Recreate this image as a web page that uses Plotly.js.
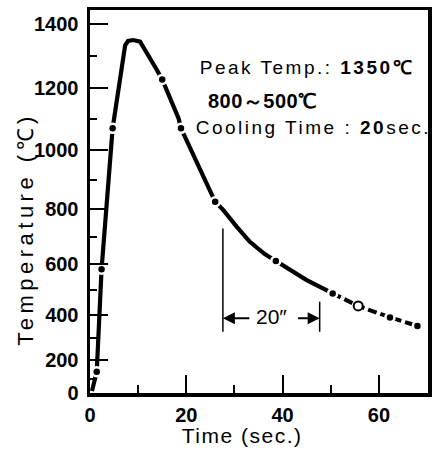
<!DOCTYPE html>
<html>
<head>
<meta charset="utf-8">
<script src="https://cdn.plot.ly/plotly-3.0.1.min.js"></script>
<style>
  html, body { margin: 0; padding: 0; background: #fff; }
  #chart { width: 433px; height: 457px; }
</style>
</head>
<body>
<div id="chart"></div>
<script>
// ---- data (time in s, temperature in °C) ----
const curveTime = [0.4, 1.4, 2.4, 4.7, 7.3, 7.9, 9.0, 10.4, 13.5, 15.0, 18.4, 18.9, 26.0, 27.7, 30.5, 33.2, 36.3, 38.6, 41.5, 45.0, 49.1, 50.4];
const curveTemp = [20, 140, 580, 1071, 1335, 1348, 1351, 1346, 1268, 1228, 1103, 1071, 824, 795, 736, 682, 637, 611, 575, 539, 500, 487];
const tailTime = [50.4, 55.7, 62.3, 68.0];
const tailTemp = [487, 437, 390, 354];
const dotTime = [1.4, 2.4, 4.7, 15.0, 18.9, 26.0, 38.6, 50.4, 55.7, 62.3, 68.0];
const dotTemp = [140, 580, 1071, 1228, 1071, 824, 611, 487, 437, 390, 354];
const dotOpen = [false, false, false, false, false, false, false, false, true, false, false];

const yTickValues = [0, 200, 400, 600, 800, 1000, 1200, 1400];
const yTickLabels = ['0', '200', '400', '600', '800', '1000', '1200', '1400'];
const yMinorValues = [100, 300, 500, 700, 900, 1100, 1300];
const xTickValues = [0, 20, 40, 60];
const xTickLabels = ['0', '20', '40', '60'];

const coolStartTime = 27.6;   // 800 °C
const coolEndTime = 47.7;     // 500 °C
const coolingLabel = '20″';

// the original temperature axis is drawn on a power scale
const AXIS_POWER = 1.24;
const yScale = T => Math.pow(T, AXIS_POWER);

const FONT = 'Liberation Sans, Arial, sans-serif';

const traces = [
  {
    x: curveTime, y: curveTemp.map(yScale), mode: 'lines', type: 'scatter',
    line: { color: '#000', width: 4.2, shape: 'linear' }, hoverinfo: 'skip'
  },
  {
    x: tailTime, y: tailTemp.map(yScale), mode: 'lines', type: 'scatter',
    line: { color: '#000', width: 4, dash: '9px,4px' }, hoverinfo: 'skip'
  },
  {
    x: dotTime, y: dotTemp.map(yScale), mode: 'markers', type: 'scatter',
    marker: {
      size: 9,
      color: dotOpen.map(o => o ? '#fff' : '#000'),
      line: { color: dotOpen.map(o => o ? '#000' : '#fff'), width: dotOpen.map(o => o ? 2 : 2.5) }
    },
    hoverinfo: 'skip'
  }
];

const arrowY = yScale(386);
const annotations = [
  { xref: 'paper', yref: 'paper', x: 0.642, y: 0.851, xanchor: 'center', yanchor: 'middle', showarrow: false,
    text: 'Peak Temp.: <b>1350℃</b>', font: { family: FONT, size: 19, color: '#000' } },
  { xref: 'paper', yref: 'paper', x: 0.510, y: 0.762, xanchor: 'center', yanchor: 'middle', showarrow: false,
    text: '<b>800～500℃</b>', font: { family: FONT, size: 20, color: '#000' } },
  { xref: 'paper', yref: 'paper', x: 0.661, y: 0.6945, xanchor: 'center', yanchor: 'middle', showarrow: false,
    text: 'Cooling Time : <b>20</b>sec.', font: { family: FONT, size: 19, color: '#000' } },
  { xref: 'x', yref: 'y', x: (coolStartTime + coolEndTime) / 2, y: yScale(395), xanchor: 'center', yanchor: 'middle', showarrow: false,
    text: coolingLabel, font: { family: FONT, size: 21, color: '#000' } },
  { xref: 'x', yref: 'y', x: coolStartTime, y: arrowY, axref: 'x', ayref: 'y', ax: coolStartTime + 5.8, ay: arrowY,
    text: '', showarrow: true, arrowhead: 2, arrowsize: 1.2, arrowwidth: 2, arrowcolor: '#000', standoff: 0 },
  { xref: 'x', yref: 'y', x: coolEndTime, y: arrowY, axref: 'x', ayref: 'y', ax: coolEndTime - 4.8, ay: arrowY,
    text: '', showarrow: true, arrowhead: 2, arrowsize: 1.2, arrowwidth: 2, arrowcolor: '#000', standoff: 0 },
  { xref: 'paper', yref: 'paper', x: -0.1923, y: 0.428, xanchor: 'center', yanchor: 'middle', showarrow: false, textangle: -90,
    text: 'Temperature (℃)', font: { family: FONT, size: 22, color: '#000' } },
  { xref: 'paper', yref: 'paper', x: 0.449, y: -0.111, xanchor: 'center', yanchor: 'middle', showarrow: false,
    text: 'Time (sec.)', font: { family: FONT, size: 21, color: '#000' } }
];
const letterSpacing = ['2.5px', '0.5px', '2.5px', '0px', '0px', '0px', '4.5px', '1.5px'];

const shapes = [
  { type: 'line', xref: 'x', yref: 'y', x0: coolStartTime, x1: coolStartTime, y0: yScale(730), y1: yScale(329),
    line: { color: '#000', width: 1.5 } },
  { type: 'line', xref: 'x', yref: 'y', x0: coolEndTime, x1: coolEndTime, y0: yScale(454), y1: yScale(329),
    line: { color: '#000', width: 1.5 } }
];

const layout = {
  width: 433, height: 457,
  margin: { l: 90, r: 5, t: 10, b: 64, pad: 0 },
  paper_bgcolor: '#fff', plot_bgcolor: '#fff',
  showlegend: false,
  font: { family: FONT, color: '#000' },
  xaxis: {
    range: [0, 70.2], showgrid: false, zeroline: false,
    showline: true, linecolor: '#000', linewidth: 3.5, mirror: true,
    tickmode: 'array', tickvals: xTickValues, ticktext: xTickLabels,
    ticks: 'inside', ticklen: 18, tickwidth: 2, tickcolor: '#000',
    minor: { tickmode: 'linear', tick0: 0, dtick: 10, ticks: 'inside', ticklen: 8, tickwidth: 2, tickcolor: '#000' },
    tickfont: { family: FONT, size: 20, weight: 'bold', color: '#000' },
    ticklabelstandoff: 1
  },
  yaxis: {
    range: [0, yScale(1443)], showgrid: false, zeroline: false,
    showline: true, linecolor: '#000', linewidth: 3.5, mirror: true,
    tickmode: 'array', tickvals: yTickValues.map(yScale), ticktext: yTickLabels,
    ticks: 'inside', ticklen: 18, tickwidth: 2, tickcolor: '#000',
    minor: { tickmode: 'array', tickvals: yMinorValues.map(yScale), ticks: 'inside', ticklen: 7, tickwidth: 2, tickcolor: '#000' },
    tickfont: { family: FONT, size: 20, weight: 'bold', color: '#000' },
    ticklabelstandoff: 4
  },
  annotations: annotations,
  shapes: shapes
};

Plotly.newPlot('chart', traces, layout, { staticPlot: true, displayModeBar: false }).then(() => {
  document.querySelectorAll('#chart .annotation').forEach(g => {
    const idx = +g.getAttribute('data-index');
    const t = g.querySelector('text.annotation-text');
    if (t && letterSpacing[idx]) t.style.letterSpacing = letterSpacing[idx];
  });
});
</script>
</body>
</html>
